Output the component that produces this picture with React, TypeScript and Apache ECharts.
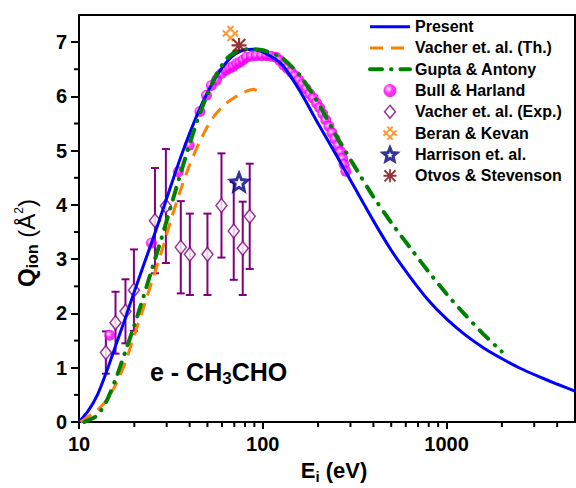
import React, { useEffect, useRef } from 'react';
import * as echarts from 'echarts';

// ---------- data ----------
const presentE = [10, 11.2, 12.6, 14.1, 15.8, 17.8, 20, 22.4, 25.1, 28.2, 31.6, 35.5, 39.8, 44.7, 50.1, 56.2, 63.1, 70.8, 79.4, 89.1, 100, 126, 158, 200, 251, 316, 398, 501, 631, 794, 1000, 1259, 1585, 1995, 2512, 3162, 3981, 5000];
const presentQ = [0, 0.2, 0.5, 0.92, 1.4, 1.9, 2.4, 2.88, 3.35, 3.85, 4.35, 4.85, 5.3, 5.72, 6.08, 6.38, 6.62, 6.78, 6.86, 6.87, 6.82, 6.6, 6.12, 5.5, 4.92, 4.32, 3.72, 3.16, 2.68, 2.25, 1.9, 1.61, 1.37, 1.17, 0.99, 0.84, 0.7, 0.57];

const vacherThE = [10.2, 11.2, 12.6, 14.1, 15.8, 17.8, 20, 22.4, 25.1, 28.2, 31.6, 35.5, 39.8, 44.7, 50.1, 56.2, 63.1, 70.8, 79.4, 89.1, 97.7];
const vacherThQ = [0.0, 0.1, 0.22, 0.4, 0.68, 1.08, 1.6, 2.1, 2.62, 3.15, 3.72, 4.25, 4.72, 5.12, 5.45, 5.7, 5.87, 5.99, 6.08, 6.13, 6.06];

const guptaE = [10.7, 11.2, 12.6, 14.1, 15.8, 17.8, 20, 22.4, 25.1, 28.2, 31.6, 35.5, 39.8, 44.7, 50.1, 56.2, 63.1, 70.8, 79.4, 89.1, 100, 126, 158, 200, 251, 316, 398, 501, 631, 794, 1000, 1259, 1585, 1995];
const guptaQ = [0.0, 0.03, 0.12, 0.38, 0.78, 1.28, 1.78, 2.3, 2.85, 3.4, 3.97, 4.55, 5.1, 5.62, 6.05, 6.42, 6.68, 6.82, 6.87, 6.87, 6.85, 6.72, 6.4, 5.88, 5.27, 4.71, 4.16, 3.67, 3.22, 2.78, 2.36, 1.98, 1.62, 1.3];

const bullE = [14.7, 24.8, 34.7, 39.8, 45.5, 49.4, 52.5, 56, 59.6, 63, 66, 69, 72, 75, 78, 81.5, 86.6, 92.2, 98.5, 105, 111, 118, 124, 130, 136, 143, 150, 157, 164, 172, 180, 188, 196, 204, 212, 220, 229, 238, 247, 257, 265, 272, 277, 283];
const bullQ = [1.6, 3.3, 4.61, 5.1, 5.72, 6.02, 6.2, 6.3, 6.42, 6.48, 6.52, 6.55, 6.6, 6.63, 6.67, 6.72, 6.74, 6.75, 6.75, 6.75, 6.74, 6.72, 6.66, 6.58, 6.52, 6.45, 6.38, 6.3, 6.22, 6.14, 6.05, 5.97, 5.88, 5.79, 5.68, 5.57, 5.45, 5.33, 5.22, 5.1, 4.98, 4.86, 4.75, 4.62];

const vacherExpE = [14.0, 15.8, 17.9, 19.9, 25.9, 29.7, 35.8, 40.1, 50, 59.6, 69.5, 77.8, 84.9];
const vacherExpQ = [1.28, 1.83, 2.04, 2.43, 3.71, 3.98, 3.22, 3.09, 3.09, 3.99, 3.52, 3.2, 3.79];
const vacherExpErr = [0.39, 0.57, 0.59, 0.75, 0.97, 1.05, 0.85, 0.75, 0.75, 0.96, 0.9, 0.86, 0.97];

const beranE = [66.7];
const beranQ = [7.16];
const harrisonE = [74.3];
const harrisonQ = [4.42];
const otvosE = [74.3];
const otvosQ = [6.94];

const xMajorTicks = [10, 100, 1000];
const xMinorTicks = [20, 30, 40, 50, 60, 70, 80, 90, 200, 300, 400, 500, 600, 700, 800, 900, 2000, 3000, 4000];
const yMajorTicks = [0, 1, 2, 3, 4, 5, 6, 7];
const yMinorTicks = [0.5, 1.5, 2.5, 3.5, 4.5, 5.5, 6.5];

const legendNames = ['Present', 'Vacher et. al. (Th.)', 'Gupta & Antony', 'Bull & Harland', 'Vacher et. al. (Exp.)', 'Beran & Kevan', 'Harrison et. al.', 'Otvos & Stevenson'];

// ---------- symbols ----------
const STAR = 'path://M10,0 L12.645,6.359 L19.511,6.910 L14.280,11.391 L15.878,18.090 L10,14.5 L4.122,18.090 L5.720,11.391 L0.489,6.910 L7.355,6.359 Z';
const ASTER = 'path://M8.6,0 L11.4,0 L11.4,20 L8.6,20 Z M0,8.6 L20,8.6 L20,11.4 L0,11.4 Z M2.5,0.5 L19.5,17.5 L17.5,19.5 L0.5,2.5 Z M17.5,0.5 L19.5,2.5 L2.5,19.5 L0.5,17.5 Z';
const HATCH = 'path://M0,3 L7,10 M3,0 L10,7 M0,7 L7,0 M3,10 L10,3';
const DIAMOND = 'path://M5,0 L10,6 L5,12 L0,6 Z';

const FONT = 'Liberation Sans, Arial, sans-serif';
const zip = (a: number[], b: number[]) => a.map((v, i) => [v, b[i]]);

export default function App() {
  const ref = useRef<HTMLDivElement>(null);
  useEffect(() => {
    const chart = echarts.init(ref.current!, null, { renderer: 'svg' });
    const tickLine = { color: '#000', width: 2 };
    const labelStyle = { color: '#000', fontFamily: FONT, fontWeight: 'bold' as const, fontSize: 20 };
    const lineSeries = (name: string, E: number[], Q: number[], color: string, lineStyle: any) => ({
      name,
      type: 'line',
      z: 4,
      symbol: 'none',
      showSymbol: false,
      smooth: 0.2,
      lineStyle: { color, ...lineStyle },
      itemStyle: { color, opacity: 0 },
      data: zip(E, Q),
    });
    const option: any = {
      animation: false,
      backgroundColor: '#fff',
      grid: { left: 79, right: 1, top: 15, bottom: 66, show: true, borderColor: '#000', borderWidth: 2, backgroundColor: 'transparent' },
      legend: {
        data: legendNames,
        orient: 'vertical',
        left: 368,
        top: 16,
        padding: 0,
        itemWidth: 40,
        itemHeight: 13,
        itemGap: 0,
        selectedMode: false,
        symbolKeepAspect: true,
        textStyle: { fontFamily: FONT, fontWeight: 'bold', fontSize: 16, color: '#000', lineHeight: 21.3 },
        itemStyle: { borderWidth: 'inherit' },
        lineStyle: { width: 'inherit' },
      },
      xAxis: {
        type: 'log',
        logBase: 10,
        min: 10,
        max: 5000,
        axisLine: { show: true, onZero: false, lineStyle: tickLine },
        axisTick: { show: true, inside: false, length: 7, lineStyle: tickLine, customValues: xMajorTicks },
        axisLabel: {
          ...labelStyle,
          margin: 12,
          customValues: xMajorTicks,
          formatter: (v: number) => {
            const l = Math.log10(v);
            return Math.abs(Math.round(l) - l) < 1e-6 ? String(Math.round(v)) : '';
          },
        },
        splitLine: { show: false },
        minorTick: { show: false },
      },
      yAxis: {
        type: 'value',
        min: 0,
        max: 7.5,
        interval: 1,
        axisLine: { show: true, onZero: false, lineStyle: tickLine },
        axisTick: { show: true, inside: false, length: 8, lineStyle: tickLine, customValues: yMajorTicks },
        axisLabel: { ...labelStyle, margin: 12, customValues: yMajorTicks },
        splitLine: { show: false },
      },
      graphic: [
        {
          type: 'text', x: 334, y: 470, z: 100,
          style: {
            text: '{b|E}{s|i}{b| (eV)}',
            align: 'center', verticalAlign: 'middle', fill: '#000',
            rich: {
              b: { fontFamily: FONT, fontWeight: 'bold', fontSize: 22, fill: '#000' },
              s: { fontFamily: FONT, fontWeight: 'bold', fontSize: 15, fill: '#000', padding: [12, 0, 0, 0] },
            },
          },
        },
        {
          type: 'text', x: 26, y: 243, rotation: Math.PI / 2, z: 100,
          style: {
            text: '{b|Q}{s|ion}{n| (Å}{p|2}{n|)}',
            align: 'center', verticalAlign: 'middle', fill: '#000',
            rich: {
              b: { fontFamily: FONT, fontWeight: 'bold', fontSize: 24, fill: '#000' },
              s: { fontFamily: FONT, fontWeight: 'bold', fontSize: 16, fill: '#000', padding: [12, 0, 0, 0] },
              n: { fontFamily: FONT, fontWeight: 'normal', fontSize: 24, fill: '#000' },
              p: { fontFamily: FONT, fontWeight: 'normal', fontSize: 12, fill: '#000', padding: [0, 0, 14, 0] },
            },
          },
        },
        {
          type: 'text', x: 150, y: 372, z: 100,
          style: {
            text: '{b|e - CH}{s|3}{b|CHO}',
            align: 'left', verticalAlign: 'middle', fill: '#000',
            rich: {
              b: { fontFamily: FONT, fontWeight: 'bold', fontSize: 25, fill: '#000' },
              s: { fontFamily: FONT, fontWeight: 'bold', fontSize: 17, fill: '#000', padding: [12, 0, 0, 0] },
            },
          },
        },
      ],
      series: [
        {
          name: 'errbars',
          type: 'custom',
          z: 2,
          silent: true,
          data: vacherExpE.map((e, i) => [e, vacherExpQ[i] - vacherExpErr[i], vacherExpQ[i] + vacherExpErr[i]]),
          encode: { x: 0, y: [1, 2] },
          renderItem: (params: any, api: any) => {
            const x = api.value(0);
            const lo = api.coord([x, api.value(1)]);
            const hi = api.coord([x, api.value(2)]);
            const hw = 4;
            const st = { stroke: '#800080', lineWidth: 2 };
            return {
              type: 'group',
              children: [
                { type: 'line', shape: { x1: lo[0], y1: lo[1], x2: hi[0], y2: hi[1] }, style: st },
                { type: 'line', shape: { x1: lo[0] - hw, y1: lo[1], x2: lo[0] + hw, y2: lo[1] }, style: st },
                { type: 'line', shape: { x1: hi[0] - hw, y1: hi[1], x2: hi[0] + hw, y2: hi[1] }, style: st },
              ],
            };
          },
        },
        {
          name: 'Bull & Harland',
          type: 'scatter',
          z: 3,
          symbol: 'circle',
          symbolSize: 11,
          itemStyle: {
            color: new echarts.graphic.RadialGradient(0.38, 0.38, 0.62, [
              { offset: 0, color: '#ffffff' },
              { offset: 0.18, color: '#ff99ff' },
              { offset: 0.5, color: '#ff00ff' },
              { offset: 1, color: '#e000e0' },
            ]),
          },
          data: zip(bullE, bullQ),
        },
        {
          name: 'Vacher et. al. (Exp.)',
          type: 'scatter',
          z: 3,
          symbol: DIAMOND,
          symbolSize: [11, 14],
          itemStyle: { color: '#fff', borderColor: '#800080', borderWidth: 1.5 },
          data: zip(vacherExpE, vacherExpQ),
        },
        lineSeries('Present', presentE, presentQ, '#0000ff', { width: 3 }),
        lineSeries('Vacher et. al. (Th.)', vacherThE, vacherThQ, '#ff8000', { width: 3, type: [13, 8] }),
        lineSeries('Gupta & Antony', guptaE, guptaQ, '#008000', { width: 4, type: [12, 9, 0.5, 9], cap: 'round' }),
        {
          name: 'Beran & Kevan',
          type: 'scatter',
          z: 5,
          symbol: HATCH,
          symbolSize: 15,
          itemStyle: { color: 'rgba(0,0,0,0)', borderColor: '#ff8000', borderWidth: 2 },
          data: zip(beranE, beranQ),
        },
        {
          name: 'Harrison et. al.',
          type: 'scatter',
          z: 5,
          symbol: STAR,
          symbolSize: 17,
          itemStyle: { color: '#fff', borderColor: '#000080', borderWidth: 3 },
          data: zip(harrisonE, harrisonQ),
        },
        {
          name: 'Otvos & Stevenson',
          type: 'scatter',
          z: 5,
          symbol: ASTER,
          symbolSize: 15,
          itemStyle: { color: '#800000' },
          data: zip(otvosE, otvosQ),
        },
        {
          name: 'xminor',
          type: 'custom',
          z: 6,
          silent: true,
          clip: false,
          data: xMinorTicks.map((v) => [v, 0]),
          encode: { x: 0, y: 1 },
          renderItem: (params: any, api: any) => {
            const p = api.coord([api.value(0), 0]);
            return { type: 'line', shape: { x1: p[0], y1: p[1], x2: p[0], y2: p[1] + 5 }, style: { stroke: '#000', lineWidth: 2 } };
          },
        },
        {
          name: 'yminor',
          type: 'custom',
          z: 6,
          silent: true,
          clip: false,
          data: yMinorTicks.map((v) => [10, v]),
          encode: { x: 0, y: 1 },
          renderItem: (params: any, api: any) => {
            const p = api.coord([10, api.value(1)]);
            return { type: 'line', shape: { x1: p[0] - 5, y1: p[1], x2: p[0], y2: p[1] }, style: { stroke: '#000', lineWidth: 2 } };
          },
        },
      ],
    };
    chart.setOption(option);
    return () => chart.dispose();
  }, []);
  return <div ref={ref} style={{ position: 'fixed', left: 0, top: 0, width: 576, height: 488, background: '#fff' }} />;
}
